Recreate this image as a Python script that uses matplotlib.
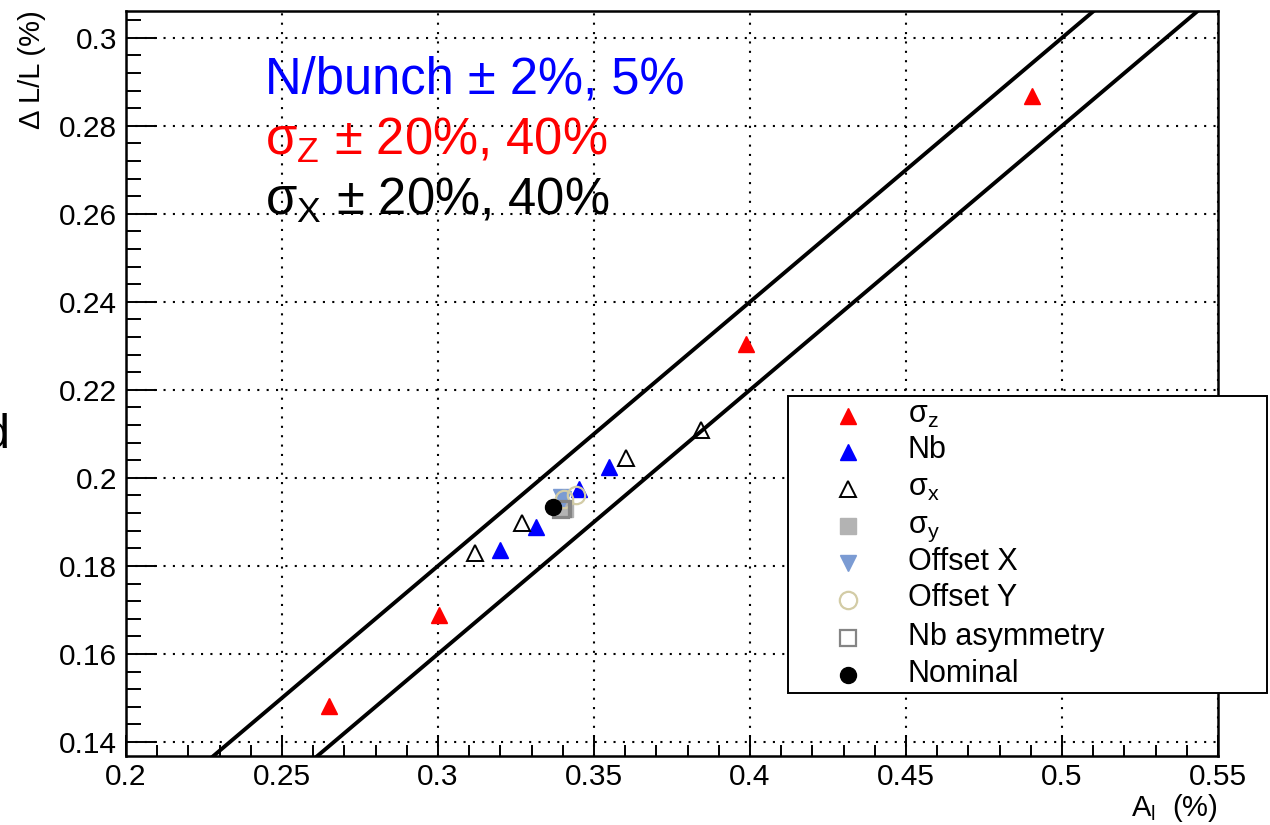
import matplotlib
matplotlib.use("Agg")
import matplotlib.pyplot as plt
from matplotlib.lines import Line2D
from matplotlib.patches import Rectangle
from matplotlib.ticker import FixedLocator, MultipleLocator

plt.rcParams['font.family'] = ['Liberation Sans', 'DejaVu Sans']

# ---- data -------------------------------------------------------------
sigz_x = [0.2651, 0.3003, 0.3987, 0.4904]
sigz_y = [0.1482, 0.1689, 0.2305, 0.2868]

nb_x = [0.3199, 0.3314, 0.3452, 0.3548]
nb_y = [0.1836, 0.1889, 0.1975, 0.2025]

sigx_x = [0.3119, 0.3269, 0.3603, 0.3843]
sigx_y = [0.1830, 0.1898, 0.2045, 0.2109]

sigy_x = [0.3394, 0.3407]
sigy_y = [0.1933, 0.1929]

offx_x = [0.3394, 0.3401]
offx_y = [0.1957, 0.1953]

offy_x = [0.3404, 0.3442]
offy_y = [0.1952, 0.1961]

nbasym_x = [0.3394, 0.3400]
nbasym_y = [0.1927, 0.1930]

nominal_x = [0.3369]
nominal_y = [0.1934]

# band edges
band_x = [0.20, 0.55]
band_upper = [0.12, 0.33]
band_lower = [0.10, 0.31]

x_ticks = [0.2, 0.25, 0.3, 0.35, 0.4, 0.45, 0.5, 0.55]
x_tick_labels = ['0.2', '0.25', '0.3', '0.35', '0.4', '0.45', '0.5', '0.55']
y_ticks = [0.14, 0.16, 0.18, 0.20, 0.22, 0.24, 0.26, 0.28, 0.30]
y_tick_labels = ['0.14', '0.16', '0.18', '0.2', '0.22', '0.24', '0.26', '0.28', '0.3']

legend_labels = ['σ$_\\mathregular{z}$', 'Nb', 'σ$_\\mathregular{x}$', 'σ$_\\mathregular{y}$',
                 'Offset X', 'Offset Y', 'Nb asymmetry', 'Nominal']

# ---- styles -----------------------------------------------------------
styles = [
    dict(marker='^', color='#ff0000', mfc='#ff0000', mec='#ff0000', ms=12),
    dict(marker='^', color='#0000ff', mfc='#0000ff', mec='#0000ff', ms=12),
    dict(marker='^', color='black', mfc='none', mec='black', ms=12, mew=1.4),
    dict(marker='s', color='#b3b3b3', mfc='#b3b3b3', mec='#b3b3b3', ms=11),
    dict(marker='v', color='#7b9bd3', mfc='#7b9bd3', mec='#7b9bd3', ms=12),
    dict(marker='o', color='#d3cca6', mfc='none', mec='#d3cca6', ms=12.5, mew=1.6),
    dict(marker='s', color='#858585', mfc='none', mec='#858585', ms=11, mew=1.6),
    dict(marker='o', color='black', mfc='black', mec='black', ms=11.5),
]
series = [(sigz_x, sigz_y), (nb_x, nb_y), (sigx_x, sigx_y), (sigy_x, sigy_y),
          (offx_x, offx_y), (offy_x, offy_y), (nbasym_x, nbasym_y),
          (nominal_x, nominal_y)]

W, H = 1270, 825
fig = plt.figure(figsize=(W / 100, H / 100), dpi=100)
ax = fig.add_axes([126 / W, 1 - 756 / H, (1218 - 126) / W, (756 - 11) / H])

ax.set_xlim(0.2, 0.55)
ax.set_ylim(0.1368, 0.3061)

ax.xaxis.set_major_locator(FixedLocator(x_ticks))
ax.set_xticklabels(x_tick_labels)
ax.yaxis.set_major_locator(FixedLocator(y_ticks))
ax.set_yticklabels(y_tick_labels)
ax.xaxis.set_minor_locator(MultipleLocator(0.01))
ax.yaxis.set_minor_locator(MultipleLocator(0.004))

ax.tick_params(axis='both', which='both', direction='in', top=False, right=False,
               labelsize=21.5, width=1.4, color='black')
ax.tick_params(axis='x', which='major', length=15, pad=5)
ax.tick_params(axis='x', which='minor', length=8)
ax.tick_params(axis='y', which='major', length=22, pad=6.5)
ax.tick_params(axis='y', which='minor', length=11)

for sp in ax.spines.values():
    sp.set_linewidth(1.8)
    sp.set_color('black')

ax.set_axisbelow(True)
ax.grid(True, which='major', color='black', linestyle=(0, (1, 3.5)), linewidth=1.5)

ax.plot(band_x, band_upper, color='black', lw=2.8, zorder=3)
ax.plot(band_x, band_lower, color='black', lw=2.8, zorder=3)

for (xs, ys), st in zip(series, styles):
    ax.plot(xs, ys, ls='none', zorder=4, **st)

# annotations
fig.text(265 / W, 1 - 93 / H, 'N/bunch ± 2%, 5%', color='#0000ff', fontsize=36.5, va='baseline')
fig.text(265 / W, 1 - 155 / H, 'σ$_\\mathregular{Z}$ ± 20%, 40%', color='#ff0000', fontsize=36.5,
         va='baseline')
fig.text(265 / W, 1 - 215 / H, 'σ$_\\mathregular{X}$ ± 20%, 40%', color='black', fontsize=36.5,
         va='baseline')

fig.text(-16.6 / W, 1 - 448 / H, 'd', fontsize=35, va='baseline', ha='left')

# axis titles
fig.text(1218 / W, 1 - 816 / H, 'A$_\\mathregular{l}$  (%)', fontsize=21, ha='right', va='baseline')
fig.text(46 / W, 1 - 10 / H, 'Δ L/L (%)', fontsize=21, rotation=90, ha='right', va='top')

# legend box
fig.add_artist(Rectangle((788 / W, 1 - 693 / H), (1267 - 788) / W, (693 - 396) / H,
                         transform=fig.transFigure, facecolor='white', edgecolor='black',
                         lw=1.4, zorder=5))
row_y = [416, 452, 489, 526, 563, 600, 638, 675]
for ry, st, lab in zip(row_y, styles, legend_labels):
    fig.add_artist(Line2D([848 / W], [1 - ry / H], transform=fig.transFigure,
                          ls='none', zorder=6, **st))
    fig.text(908 / W, 1 - (ry + 6.5) / H, lab, fontsize=22, va='baseline', zorder=6)

fig.savefig('out.png', dpi=100)
